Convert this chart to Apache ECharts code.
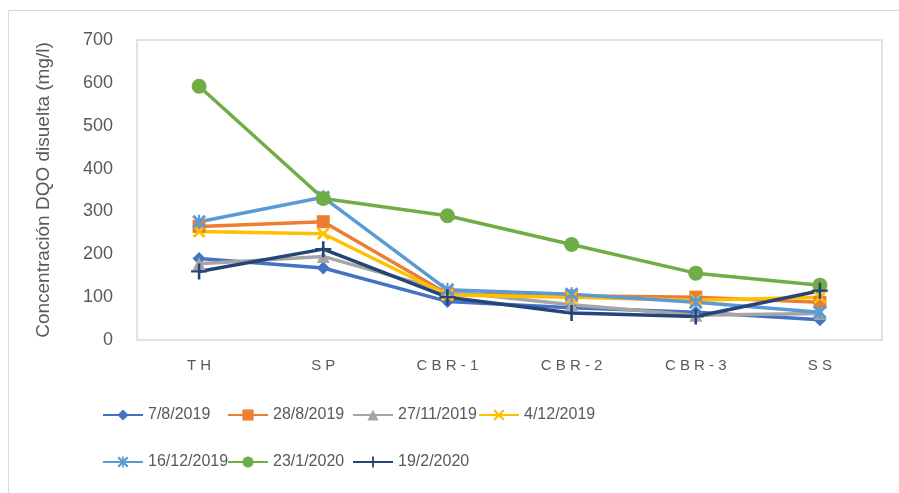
<html><head>
<meta charset="UTF-8">
<title>Concentración DQO disuelta</title>
<style>
  body { margin: 0; background: #fff; }
  #chart { width: 899px; height: 493px; }
</style>
</head>
<body>
<div id="chart"></div>
<script src="https://cdn.jsdelivr.net/npm/echarts@6/dist/echarts.min.js"></script>
<script>
  // puntos de muestreo
  const categories = ['T H', 'S P', 'C B R - 1', 'C B R - 2', 'C B R - 3', 'S S'];
  const seriesNames = ['7/8/2019', '28/8/2019', '27/11/2019', '4/12/2019', '16/12/2019', '23/1/2020', '19/2/2020'];

  // DQO disuelta (mg/l) por fecha
  const d_7_8_2019   = [190, 168, 90, 75, 65, 47];
  const d_28_8_2019  = [265, 276, 108, 103, 100, 88];
  const d_27_11_2019 = [178, 195, 113, 82, 58, 62];
  const d_4_12_2019  = [253, 248, 105, 100, 93, 100];
  const d_16_12_2019 = [276, 333, 117, 107, 88, 65];
  const d_23_1_2020  = [592, 330, 290, 223, 156, 128];
  const d_19_2_2020  = [160, 212, 100, 63, 55, 115];

  const yTicks = [0, 100, 200, 300, 400, 500, 600, 700];

  const colors = ['#4472C4', '#ED7D31', '#A5A5A5', '#FFC000', '#5B9BD5', '#70AD47', '#264478'];

  const xMark = 'path://M0,1.5L1.5,0L10,8.5L8.5,10Z M8.5,0L10,1.5L1.5,10L0,8.5Z';
  const starMark = 'path://M0,1.5L1.5,0L10,8.5L8.5,10Z M8.5,0L10,1.5L1.5,10L0,8.5Z M4.25,0H5.75V10H4.25Z';
  const plusMark = 'path://M4.2,0H5.8V10H4.2Z M0,4.3H10V5.7H0Z';

  const symbols = ['diamond', 'rect', 'triangle', xMark, starMark, 'circle', plusMark];
  const symbolSizes = [13, 13, 13, 13, 14, 15, 16];
  const allData = [d_7_8_2019, d_28_8_2019, d_27_11_2019, d_4_12_2019, d_16_12_2019, d_23_1_2020, d_19_2_2020];

  // posición de cada entrada de la leyenda (4 + 3)
  const legendLeft = [102, 227, 352, 478, 102, 227, 352];
  const legendTop = [407, 407, 407, 407, 454, 454, 454];

  const chart = echarts.init(document.getElementById('chart'));

  const font = 'Liberation Sans, Arial, sans-serif';

  const option = {
    animation: false,
    color: colors,
    graphic: [{
      type: 'rect',
      shape: { x: 8.5, y: 10.5, width: 1000, height: 1000 },
      style: { fill: 'none', stroke: '#d9d9d9', lineWidth: 1 },
      silent: true
    }],
    grid: { left: 137, top: 40, right: 17, bottom: 153, show: true, borderColor: '#d9d9d9', borderWidth: 1.5, backgroundColor: 'transparent' },
    legend: seriesNames.map((name, i) => ({
      data: [name],
      left: legendLeft[i],
      top: legendTop[i],
      padding: 0,
      itemWidth: 40, itemHeight: 14, itemGap: 0,
      textStyle: { color: '#595959', fontSize: 16, fontFamily: font }
    })),
    xAxis: {
      type: 'category',
      data: categories,
      boundaryGap: true,
      axisLine: { show: false },
      axisTick: { show: false },
      axisLabel: { color: '#595959', fontSize: 15, margin: 18, fontFamily: font }
    },
    yAxis: {
      type: 'value',
      min: yTicks[0],
      max: yTicks[yTicks.length - 1],
      interval: 100,
      name: 'Concentración DQO disuelta (mg/l)',
      nameLocation: 'middle',
      nameGap: 84,
      nameTextStyle: { color: '#595959', fontSize: 19, fontFamily: font },
      axisLine: { show: false },
      axisTick: { show: false },
      splitLine: { show: false },
      axisLabel: { color: '#595959', fontSize: 18, margin: 24, fontFamily: font }
    },
    series: seriesNames.map((name, i) => ({
      name: name,
      type: 'line',
      data: allData[i],
      symbol: symbols[i],
      symbolSize: symbolSizes[i],
      showAllSymbol: true,
      lineStyle: { width: 3.5, color: colors[i] },
      itemStyle: { color: colors[i] }
    }))
  };

  chart.setOption(option);
</script>
</body>
</html>
